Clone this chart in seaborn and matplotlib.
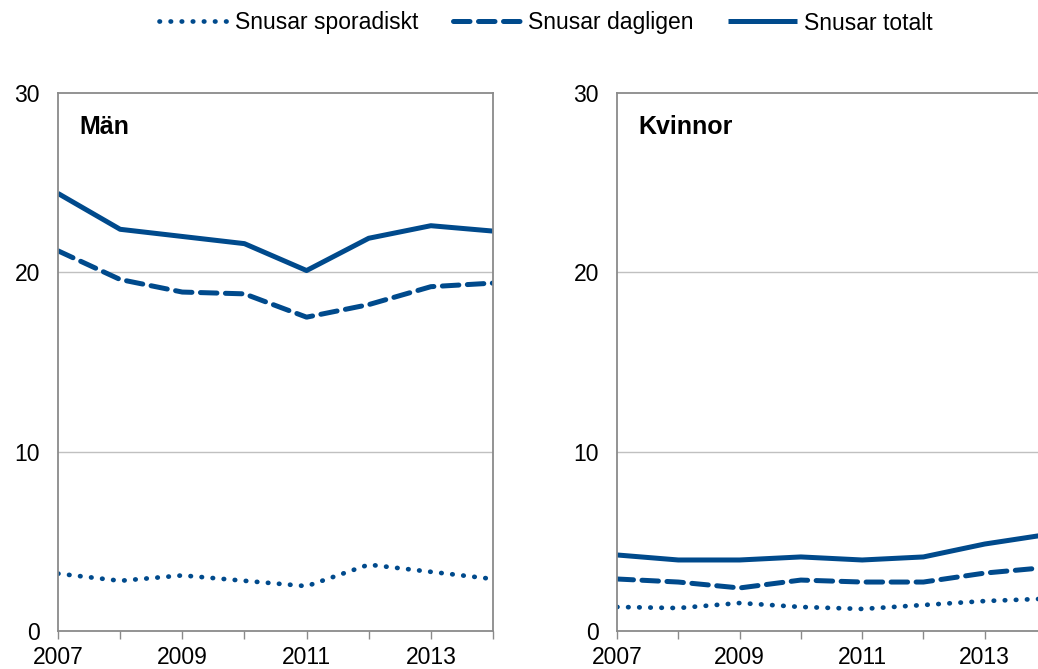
import numpy as np
import pandas as pd
import matplotlib
matplotlib.use("Agg")
import matplotlib.pyplot as plt
import seaborn as sns

# data (percent)
years = [2007, 2008, 2009, 2010, 2011, 2012, 2013, 2014]
series_names = ["Snusar sporadiskt", "Snusar dagligen", "Snusar totalt"]

man_sporadiskt = [3.2, 2.8, 3.1, 2.8, 2.5, 3.7, 3.3, 2.9]
man_dagligen = [21.2, 19.6, 18.9, 18.8, 17.5, 18.2, 19.2, 19.4]
man_totalt = [24.4, 22.4, 22.0, 21.6, 20.1, 21.9, 22.6, 22.3]

kv_sporadiskt = [1.34, 1.28, 1.56, 1.34, 1.23, 1.45, 1.67, 1.8]
kv_dagligen = [2.9, 2.73, 2.4, 2.84, 2.73, 2.73, 3.23, 3.54]
kv_totalt = [4.24, 3.96, 3.96, 4.13, 3.96, 4.13, 4.85, 5.37]

panel_titles = ["Män", "Kvinnor"]
yticks = [0, 10, 20, 30]
xtick_labels = ["2007", "", "2009", "", "2011", "", "2013", ""]

sns.set_theme(style="white")
plt.rcParams["font.family"] = ["Liberation Sans", "DejaVu Sans"]
plt.rcParams["text.color"] = "black"

blue = "#004a8c"
styles = {
    "Snusar sporadiskt": dict(linestyle=(0, (0.1, 2.25)), lw=3.4, dash_capstyle="round"),
    "Snusar dagligen": dict(linestyle=(0, (3.3, 1.7)), lw=3.6, dash_capstyle="round"),
    "Snusar totalt": dict(linestyle="-", lw=3.6, solid_capstyle="butt"),
}

W, H = 1038, 669
fig = plt.figure(figsize=(W / 100, H / 100), dpi=100)
ax1 = fig.add_axes([58 / W, (H - 631) / H, (493 - 58) / W, (631 - 93) / H])
ax2 = fig.add_axes([617 / W, (H - 631) / H, (1046 - 617) / W, (631 - 93) / H])

panels = [
    (ax1, [man_sporadiskt, man_dagligen, man_totalt]),
    (ax2, [kv_sporadiskt, kv_dagligen, kv_totalt]),
]

for (ax, data), title in zip(panels, panel_titles):
    for name, vals in zip(series_names, data):
        st = styles[name]
        sns.lineplot(x=years, y=vals, ax=ax, color=blue, label=name, **st)
    ax.set_xlim(2007, 2014)
    ax.set_ylim(0, 30)
    ax.set_yticks(yticks)
    ax.set_xticks(years)
    ax.set_xticklabels(xtick_labels)
    for y in [10, 20]:
        ax.axhline(y, color="#c0c0c0", lw=1, zorder=0)
    for s in ax.spines.values():
        s.set_color("#8a8a8a")
        s.set_linewidth(1.3)
    ax.tick_params(axis="x", direction="out", length=6, width=1, color="#8a8a8a",
                   pad=4.5, labelsize=16.5, labelcolor="black", bottom=True)
    ax.tick_params(axis="y", length=0, pad=13, labelsize=16.5, labelcolor="black")
    ax.text(0.05, 0.937, title, transform=ax.transAxes, fontsize=18,
            fontweight="bold", va="center", ha="left", color="black")
    ax.set_xlabel("")
    ax.set_ylabel("")
    ax.get_legend().remove()

handles, labels = ax1.get_legend_handles_labels()
leg = fig.legend(handles, labels, loc="center", bbox_to_anchor=(0.526, 1 - 23 / H),
                 ncol=3, frameon=False, fontsize=16.5, handlelength=3.0,
                 handletextpad=0.3, columnspacing=1.5)
for t in leg.get_texts():
    t.set_color("black")

fig.savefig("out.png", dpi=100)
